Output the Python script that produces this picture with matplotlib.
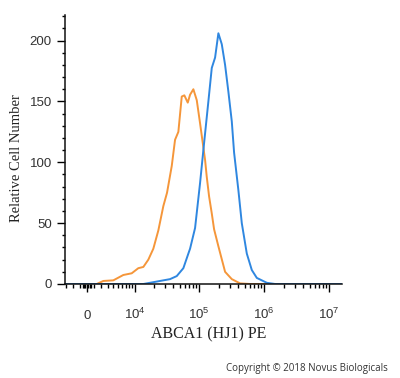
import numpy as np
import matplotlib
matplotlib.use("Agg")
import matplotlib.pyplot as plt

# ---- data (fluorescence intensity vs relative cell number) ----
orange_x = [-3200, 1321, 2300, 4043, 6299, 8796, 11295, 13595, 16320, 19560, 23410,
            28000, 31950, 37800, 42500, 47800, 53900, 59100, 66700, 72400, 81400,
            91800, 103200, 123200, 130800, 142000, 156200, 169500, 197400, 250300,
            317400, 425700, 606800, 15.7e6]
orange_y = [0, 0, 2.5, 3, 7.4, 8.8, 13, 14, 20, 29, 44,
            64, 75, 97, 118.5, 125, 154, 155, 149, 155.5, 160,
            151, 132, 102, 88, 72, 58, 45, 31, 10,
            4, 0.5, 0, 0]

blue_x = [-3200, 13595, 17360, 24900, 35550, 45130, 57080, 68160, 72400, 86450,
          103200, 116000, 138500, 156200, 175600, 197400, 222600, 250300, 281200,
          317400, 344200, 400900, 452100, 539900, 644300, 769500, 1096000, 1471000, 15.7e6]
blue_y = [0, 0, 1, 2.5, 4, 6.5, 13, 25, 29, 46,
          83, 110, 150, 177.5, 186, 206, 197, 180, 158,
          133.5, 108, 77, 50, 25, 11.5, 5, 1, 0, 0]

x_major = [0, 1e4, 1e5, 1e6, 1e7]
x_labels = ["0", r"$\mathregular{10^4}$", r"$\mathregular{10^5}$",
            r"$\mathregular{10^6}$", r"$\mathregular{10^7}$"]
y_major = [0, 50, 100, 150, 200]

C = 3770.0
def fwd(x):
    return np.arcsinh(np.asarray(x, dtype=float) / C) / np.log(10)
def inv(p):
    return C * np.sinh(np.asarray(p, dtype=float) * np.log(10))

fig = plt.figure(figsize=(4.0, 3.78), dpi=100)
ax = fig.add_axes([65/400, 1-284/378, 277/400, 269/378])

ax.set_xscale('function', functions=(fwd, inv))
ax.plot(orange_x, orange_y, color='#F5963A', lw=1.4)
ax.plot(blue_x, blue_y, color='#2F87E0', lw=1.4)

ax.set_xlim(-3240, 1.57e7)
ax.set_ylim(0, 221)

for s in ['top', 'right']:
    ax.spines[s].set_visible(False)
for s in ['left', 'bottom']:
    ax.spines[s].set_linewidth(1.1)
    ax.spines[s].set_color('#111111')

# x ticks
minor = [-3000, -2000, -1000, -600, -400, -200, 200, 400, 600]
for d in [1e3, 1e4, 1e5, 1e6]:
    minor += [k * d for k in range(2, 10)] if d > 1e3 else [k * d for k in range(1, 10)]
ax.set_xticks(x_major, x_labels, va='baseline', family='Liberation Sans',
              fontsize=9.5, color='#333333')
ax.set_xticks(minor, minor=True)
ax.tick_params(axis='x', which='major', length=6, width=1, pad=19, direction='out')
ax.tick_params(axis='x', which='minor', length=3, width=1, direction='out')

# y ticks
ax.set_yticks(y_major)
ax.set_yticks(np.arange(0, 221, 10), minor=True)
ax.tick_params(axis='y', which='major', length=5.5, width=1, pad=4)
ax.tick_params(axis='y', which='minor', length=2.5, width=1)
for lab in ax.get_yticklabels():
    lab.set_family('Liberation Sans')
    lab.set_fontsize(9.5)
    lab.set_color('#333333')

ax.set_xlabel('ABCA1 (HJ1) PE', family='Liberation Serif', fontsize=11.5, color='#222222')
ax.xaxis.set_label_coords((209-65)/277, (284-326)/269)
ax.xaxis.label.set_va('top')
ax.set_ylabel('Relative Cell Number', family='Liberation Serif', fontsize=10.5, color='#222222')
ax.yaxis.set_label_coords((23-65)/277, (284-158)/269)

fig.text(388/400, 1-368/378, 'Copyright \u00a9 2018 Novus Biologicals', ha='right', va='center',
         family='Open Sans', fontsize=7, color='#333333')

fig.savefig('out.png', dpi=100)
